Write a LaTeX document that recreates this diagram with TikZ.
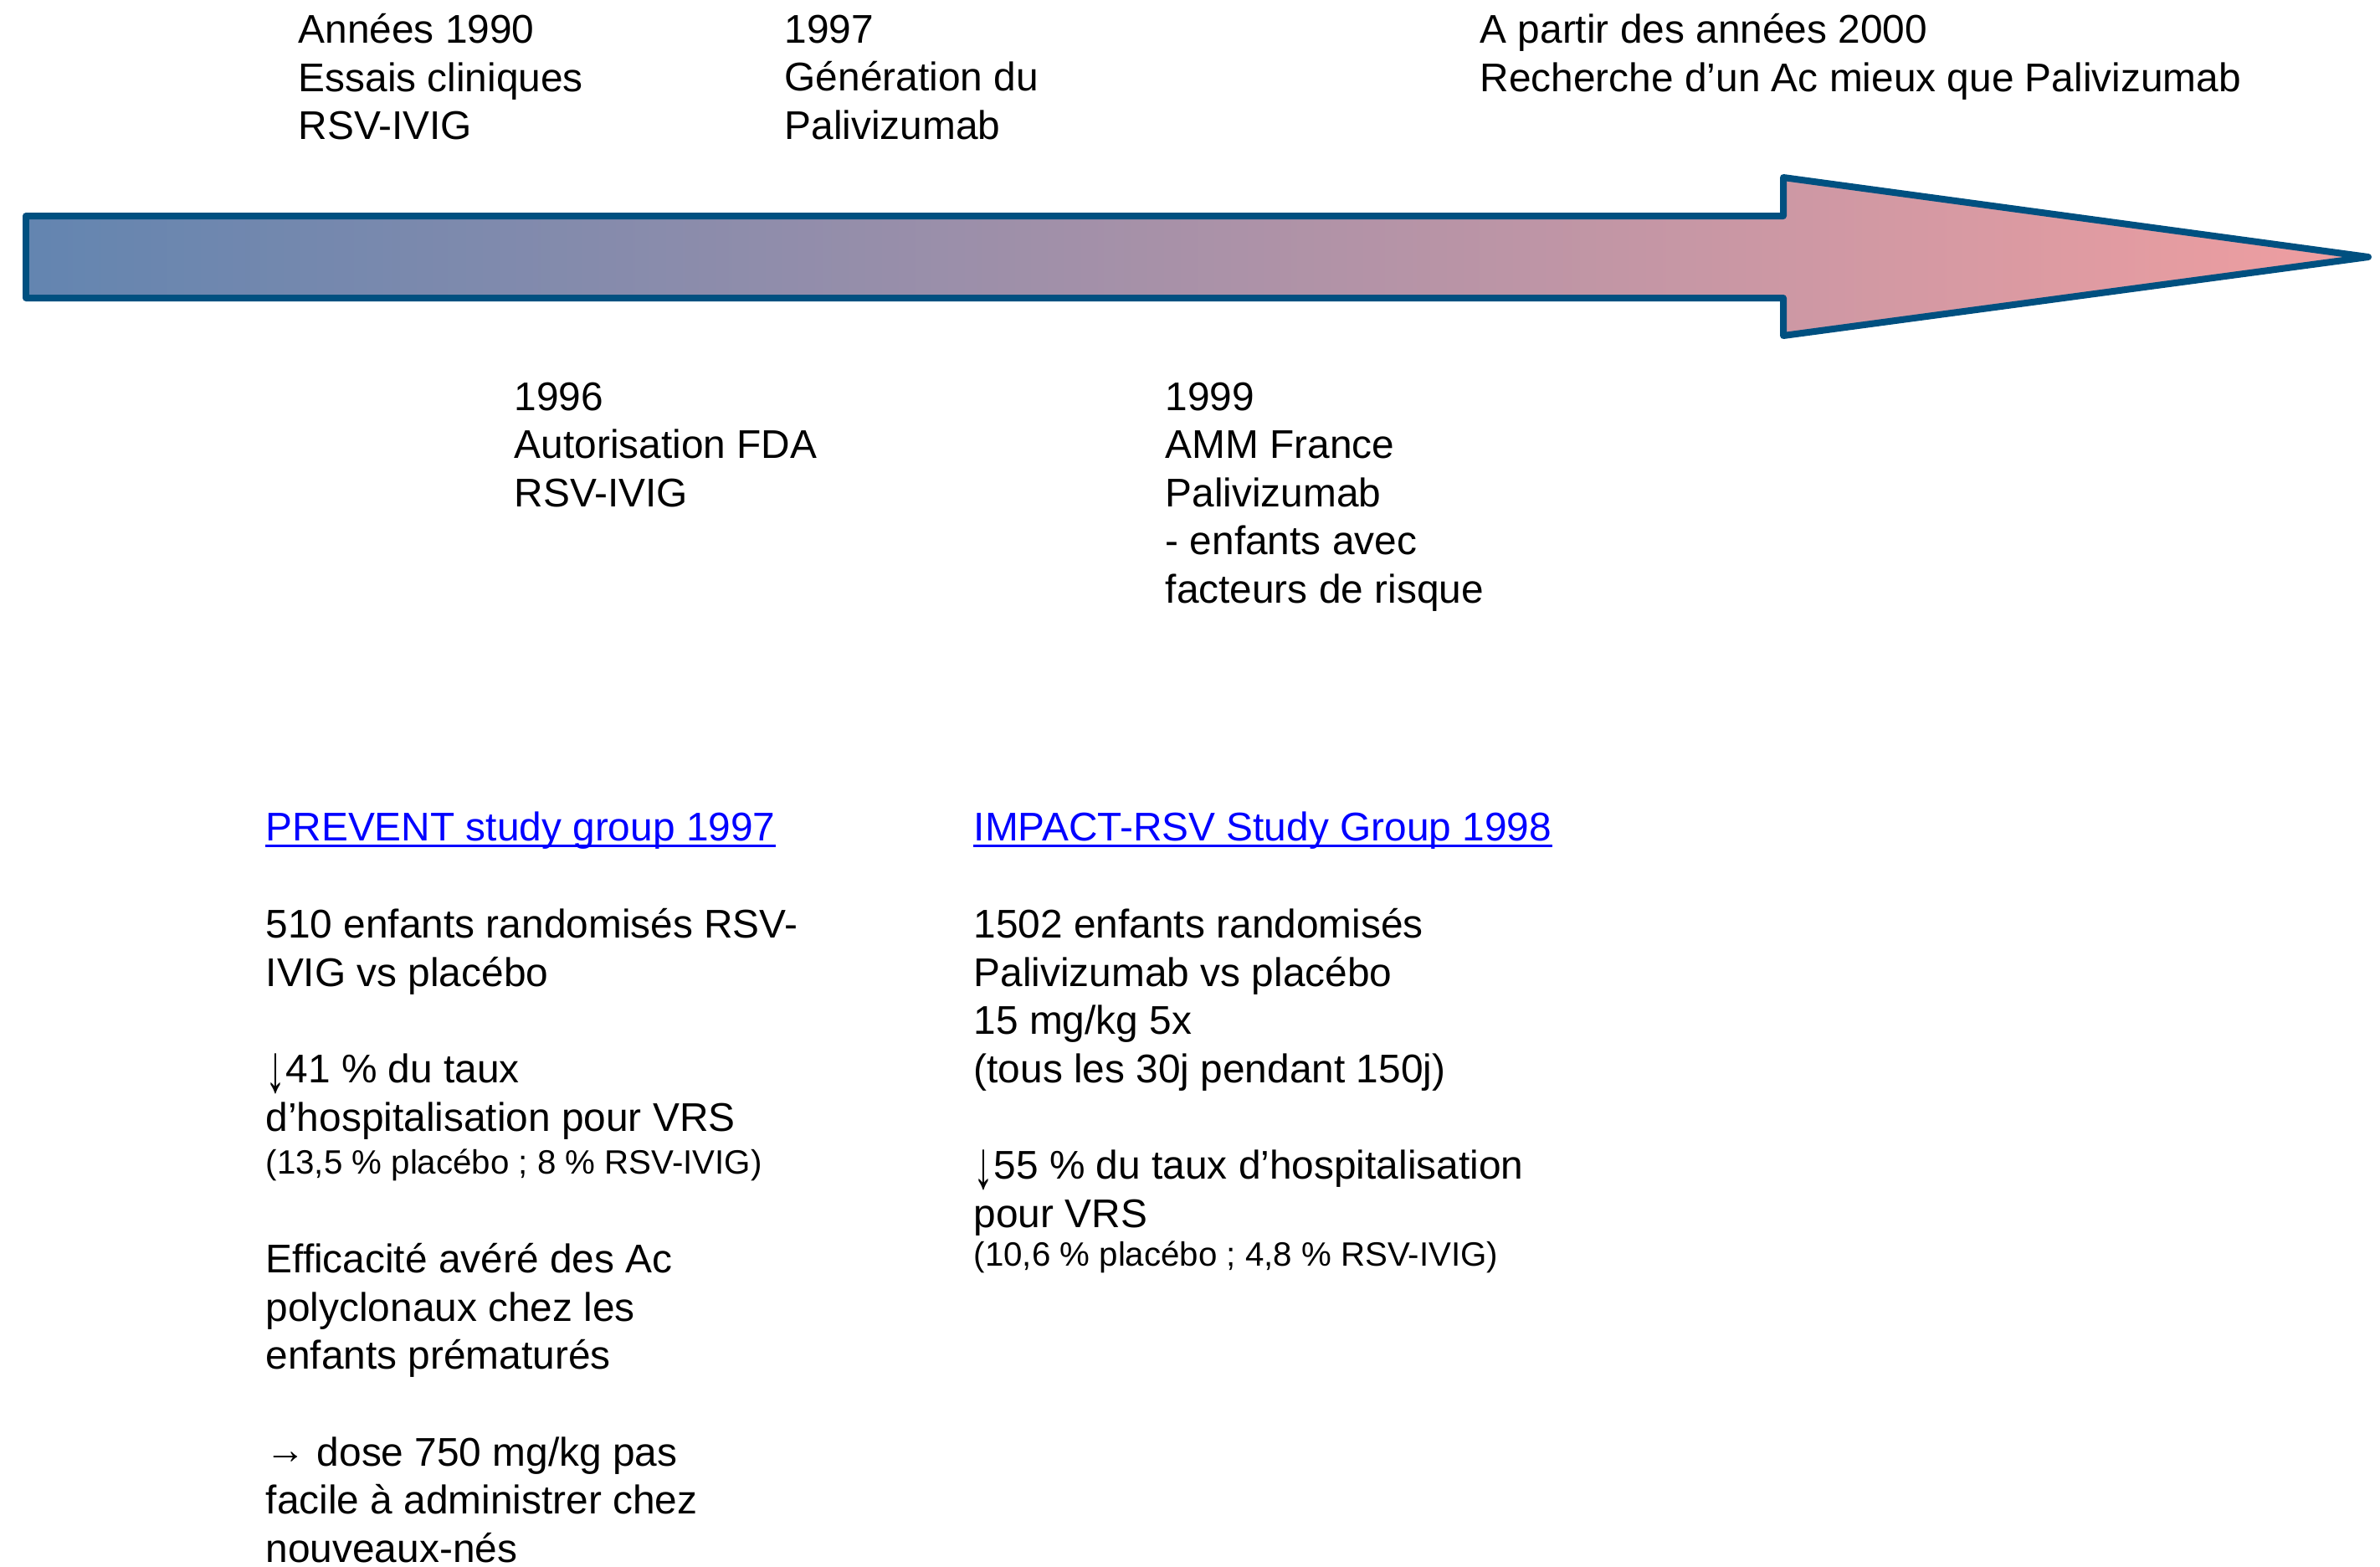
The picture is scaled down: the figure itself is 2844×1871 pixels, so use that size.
\documentclass[tikz,border=0pt]{standalone}
\usepackage{graphicx}
\usepackage{fontspec}
\setmainfont{Liberation Sans}
\newfontfamily\arrowfont{Liberation Serif}
\usetikzlibrary{positioning}

\definecolor{arrowline}{RGB}{0,80,128}
\definecolor{arrowleft}{RGB}{99,133,176}
\definecolor{arrowright}{RGB}{240,158,160}
\definecolor{linkblue}{RGB}{0,0,255}

\newcommand{\bodyfont}{\fontsize{13.6}{16.35}\selectfont}
\newcommand{\notefont}{\fontsize{11.45}{13.6}\selectfont}
% tall thin arrows in the running text
\newcommand{\down}{\smash{\raisebox{-0.22em}{\scalebox{1}[1.7]{\arrowfont ↓}}}}
\newcommand{\then}{\raisebox{0.05em}{\arrowfont →}}
\newlength{\blankgap}\setlength{\blankgap}{16.5pt}

\begin{document}
\begin{tikzpicture}[
  x=0.01cm, y=-0.01cm,
  txt/.style={anchor=north west, inner sep=0pt, align=left, font=\bodyfont},
  link/.style={anchor=base west, inner sep=0pt, font=\bodyfont, text=linkblue},
  uline/.style={draw=linkblue, line width=1pt}
]
\useasboundingbox (0,0) rectangle (2844,1871);

% timeline arrow
\draw[line width=2.27pt, draw=arrowline, line join=round, left color=arrowleft, right color=arrowright]
  (31,258) -- (2131,258) -- (2131,212) -- (2830,307) -- (2131,401) -- (2131,356) -- (31,356) -- cycle;

% dates above the arrow
\node[txt] (y1990) at (356,16) {Années 1990\\Essais cliniques\\RSV-IVIG};
\node[txt] (y1997) at (937,17) {1997\\Génération du\\Palivizumab};
\node[txt] (y2000) at (1768,16) {A partir des années 2000\\Recherche d’un Ac mieux que Palivizumab};

% dates below the arrow
\node[txt] (y1996) at (614,456) {1996\\Autorisation FDA\\RSV-IVIG};
\node[txt] (y1999) at (1392,456) {1999\\AMM France\\Palivizumab\\- enfants avec\\facteurs de risque};

% the two trials
\node[link] (prevent) at (317,1004) {PREVENT study group 1997};
\draw[uline] ([yshift=-1.9pt]prevent.base west) -- ([yshift=-1.9pt]prevent.base east);
\node[txt] (prevbody) at (317,1085) {510 enfants randomisés RSV-\\IVIG vs placébo\\[\blankgap]%
\down41 \% du taux\\d’hospitalisation pour VRS\\[-1.8pt]{\notefont (13,5 \% placébo ; 8 \% RSV-IVIG)}\\[17.2pt]%
Efficacité avéré des Ac\\polyclonaux chez les\\enfants prématurés\\[\blankgap]%
\then{} dose 750 mg/kg pas\\facile à administrer chez\\nouveaux-nés};

\node[link] (impact) at (1163,1004) {IMPACT-RSV Study Group 1998};
\draw[uline] ([yshift=-1.9pt]impact.base west) -- ([yshift=-1.9pt]impact.base east);
\node[txt] (impbody) at (1163,1085) {1502 enfants randomisés\\Palivizumab vs placébo\\15 mg/kg 5x\\(tous les 30j pendant 150j)\\[\blankgap]%
\down55 \% du taux d’hospitalisation\\pour VRS\\[-3.2pt]{\notefont (10,6 \% placébo ; 4,8 \% RSV-IVIG)}};
\end{tikzpicture}
\end{document}
